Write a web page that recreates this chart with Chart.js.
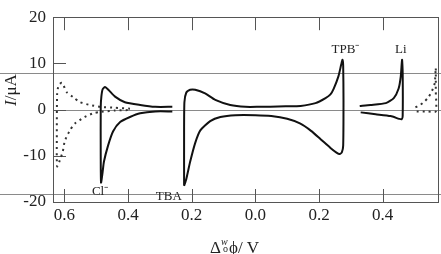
<!DOCTYPE html>
<html>
<head>
<meta charset="utf-8">
<script src="https://cdn.jsdelivr.net/npm/chart.js@4"></script>
<style>
  body { margin: 0; background: #fff; }
  canvas { display: block; }
</style>
</head>
<body>
<canvas id="cv" width="441" height="254"></canvas>
<script>
// potensial (V), kiri = nilai negatif, label ditampilkan sebagai nilai mutlak
const xTicks = [-0.6, -0.4, -0.2, 0, 0.2, 0.4];
const yTicks = [20, 10, 0, -10, -20];

// kurva titik-titik kiri (batas jendela)
const dotLeftX = [-0.394, -0.441, -0.488, -0.520, -0.551, -0.573, -0.592, -0.608, -0.618, -0.623, -0.624, -0.623, -0.612, -0.605, -0.599, -0.583, -0.567, -0.536, -0.510, -0.488, -0.441, -0.394];
const dotLeftY = [0.2, 0.4, 0.6, 1.0, 1.6, 2.7, 3.7, 5.8, 5.3, 3.5, -6, -12.3, -10.5, -9.0, -6.8, -4.5, -3.0, -1.6, -0.8, -0.5, -0.2, -0.1];

// Cl-
const clX = [-0.261, -0.315, -0.362, -0.410, -0.441, -0.462, -0.4725, -0.480, -0.484, -0.486, -0.486, -0.485, -0.480, -0.476, -0.463, -0.447, -0.425, -0.394, -0.362, -0.315, -0.261];
const clY = [0.6, 0.6, 1.0, 1.6, 2.8, 4.3, 4.9, 4.4, 2.8, 0.5, -10, -15.8, -13.5, -11.3, -7.8, -4.7, -2.7, -1.6, -0.8, -0.4, -0.4];

// TBA+ / TPB-
const tbX = [-0.224, -0.224, -0.223, -0.217, -0.205, -0.189, -0.158, -0.126, -0.079, -0.0315, 0.016, 0.047, 0.095, 0.142, 0.189, 0.2205, 0.236, 0.246, 0.261, 0.270, 0.274, 0.276, 0.277, 0.276, 0.272, 0.265, 0.255, 0.236, 0.205, 0.175, 0.140, 0.100, 0.050, 0, -0.063, -0.110, -0.142, -0.173, -0.189, -0.205, -0.217, -0.224];
const tbY = [-16.5, -5, 1.6, 3.7, 4.3, 4.3, 3.5, 2.1, 1.0, 0.6, 0.6, 0.6, 0.7, 0.8, 1.4, 2.5, 3.3, 4.5, 7.2, 9.8, 10.8, 9.5, 2, -7.8, -9.2, -9.6, -9.3, -8.3, -6.4, -4.6, -3.0, -2.0, -1.4, -1.2, -1.2, -1.6, -2.5, -4.5, -7.2, -11.3, -15.0, -16.5];

// Li+
const liX = [0.328, 0.362, 0.410, 0.435, 0.450, 0.457, 0.461, 0.463, 0.463, 0.460, 0.452, 0.425, 0.378, 0.331];
const liY = [0.8, 1.0, 1.4, 2.5, 4.5, 7.2, 10.8, 8, -1.4, -2.1, -2.0, -1.4, -1.0, -0.6];

// kurva titik-titik kanan
const dotRightX = [0.507, 0.540, 0.567, 0.567, 0.567, 0.564, 0.558, 0.551, 0.542, 0.526, 0.513, 0.503];
const dotRightY = [-0.4, -0.4, -0.4, 4.0, 9.0, 5.8, 4.5, 3.5, 2.5, 1.4, 0.8, 0.5];

// label ion
const ionLabels = ["Cl⁻", "TBA", "TPB⁻", "Li"];
const ionLabelX = [-0.488, -0.272, 0.283, 0.457];
const ionLabelY = [-17.7, -18.8, 13.0, 13.0];

function pts(xs, ys) {
    return xs.map((x, i) => ({ x: x, y: ys[i] }));
}

const serif = "'Liberation Serif', 'Times New Roman', serif";

const solid = { borderColor: "#111", borderWidth: 2, pointRadius: 0, showLine: true, tension: 0.2, fill: false };
const dotted = { borderColor: "#333", borderWidth: 2, borderDash: [2, 4], pointRadius: 0, showLine: true, tension: 0.2, fill: false };

// gambar bingkai, tick ke dalam, garis abu-abu, label dan judul sumbu
const decor = {
    id: "decor",
    beforeDatasetsDraw(chart) {
        const { ctx, chartArea: a, scales: { x, y } } = chart;
        ctx.save();
        ctx.strokeStyle = "#8a8a8a";
        ctx.lineWidth = 1;
        // garis horizontal abu-abu melintang penuh
        [8.0, -18.35].forEach((v) => {
            const py = Math.round(y.getPixelForValue(v)) + 0.5;
            ctx.beginPath();
            ctx.moveTo(0, py);
            ctx.lineTo(chart.width, py);
            ctx.stroke();
        });
        const p0 = Math.round(y.getPixelForValue(0)) + 0.5;
        ctx.beginPath();
        ctx.moveTo(a.left, p0);
        ctx.lineTo(chart.width, p0);
        ctx.stroke();

        // bingkai
        ctx.strokeStyle = "#555";
        ctx.strokeRect(Math.round(a.left) + 0.5, Math.round(a.top) + 0.5, Math.round(a.right - a.left), Math.round(a.bottom - a.top));

        // tick ke dalam
        const len = 13;
        ctx.beginPath();
        xTicks.forEach((v) => {
            const px = Math.round(x.getPixelForValue(v)) + 0.5;
            ctx.moveTo(px, a.top);
            ctx.lineTo(px, a.top + len);
            ctx.moveTo(px, a.bottom);
            ctx.lineTo(px, a.bottom - len);
        });
        yTicks.forEach((v) => {
            const py = Math.round(y.getPixelForValue(v)) + 0.5;
            ctx.moveTo(a.left, py);
            ctx.lineTo(a.left + len, py);
        });
        ctx.stroke();
        ctx.restore();
    },
    afterDraw(chart) {
        const { ctx, scales: { x, y } } = chart;
        ctx.save();
        ctx.fillStyle = "#222";
        ctx.textAlign = "center";
        ctx.textBaseline = "middle";
        ctx.font = "13px " + serif;
        ionLabels.forEach((t, i) => {
            ctx.fillText(t, x.getPixelForValue(ionLabelX[i]), y.getPixelForValue(ionLabelY[i]));
        });

        // judul sumbu x: Δ^w_o φ / V
        ctx.textAlign = "left";
        ctx.textBaseline = "alphabetic";
        let cx = 210;
        const base = 253;
        ctx.font = "17px " + serif;
        ctx.fillText("Δ", cx, base);
        cx += ctx.measureText("Δ").width;
        ctx.font = "italic 10px " + serif;
        ctx.fillText("w", cx, base - 8);
        ctx.font = "10px " + serif;
        ctx.fillText("o", cx + 2, base - 1);
        cx += 8;
        ctx.font = "17px " + serif;
        ctx.fillText("ϕ/ V", cx, base);

        // judul sumbu y: I/μA
        ctx.translate(16, 90);
        ctx.rotate(-Math.PI / 2);
        ctx.textAlign = "left";
        ctx.font = "italic 17px " + serif;
        const w1 = ctx.measureText("I").width;
        ctx.font = "17px " + serif;
        const w2 = ctx.measureText("/μA").width;
        const sx = -(w1 + w2) / 2;
        ctx.font = "italic 17px " + serif;
        ctx.fillText("I", sx, 0);
        ctx.font = "17px " + serif;
        ctx.fillText("/μA", sx + w1, 0);
        ctx.restore();
    },
};

const chart = new Chart(document.getElementById("cv"), {
    type: "scatter",
    data: {
        datasets: [
            Object.assign({ data: pts(dotLeftX, dotLeftY) }, dotted),
            Object.assign({ data: pts(clX, clY) }, solid),
            Object.assign({ data: pts(tbX, tbY) }, solid),
            Object.assign({ data: pts(liX, liY) }, solid),
            Object.assign({ data: pts(dotRightX, dotRightY) }, dotted),
        ],
    },
    options: {
        responsive: false,
        animation: false,
        layout: { padding: { top: 8, right: 3, left: 0, bottom: 0 } },
        plugins: { legend: { display: false }, tooltip: { enabled: false } },
        scales: {
            x: {
                type: "linear",
                min: -0.636,
                max: 0.574,
                afterBuildTicks: (axis) => {
                    axis.ticks = xTicks.map((v) => ({ value: v }));
                },
                afterFit: (axis) => {
                    axis.height = 52;
                },
                ticks: {
                    callback: (v) => Math.abs(v).toFixed(1),
                    font: { family: serif, size: 17 },
                    color: "#222",
                    padding: 3,
                    autoSkip: false,
                    maxRotation: 0,
                },
                grid: { display: false, drawTicks: false },
                border: { display: false },
            },
            y: {
                min: -20,
                max: 20,
                afterBuildTicks: (axis) => {
                    axis.ticks = yTicks.map((v) => ({ value: v }));
                },
                afterFit: (axis) => {
                    axis.width = 53;
                },
                ticks: {
                    callback: (v) => String(v),
                    font: { family: serif, size: 17 },
                    color: "#222",
                    padding: 7,
                },
                grid: { display: false, drawTicks: false },
                border: { display: false },
            },
        },
    },
    plugins: [decor],
});
</script>
</body>
</html>
